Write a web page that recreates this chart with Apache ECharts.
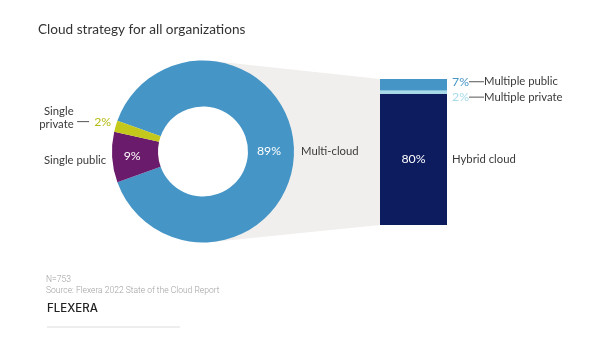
<!DOCTYPE html>
<html>
<head>
<meta charset="utf-8">
<script src="https://cdn.jsdelivr.net/npm/echarts@6/dist/echarts.min.js"></script>
<style>html,body{margin:0;padding:0;background:#fff}#c{width:600px;height:350px}</style>
</head>
<body>
<div id="c"></div>
<script>
// ---- data ----
const pieCategories = ['Multi-cloud', 'Single public', 'Single private'];
const pieValues = [89, 9, 2];
const barCategories = ['Hybrid cloud', 'Multiple private', 'Multiple public'];
const barValues = [80, 2, 7];
const titleText = 'Cloud strategy for all organizations';
const noteText = 'N=753';
const sourceText = 'Source: Flexera 2022 State of the Cloud Report';

// ---- layout / style ----
const FONT = 'Lato';
const NAME_SIZE = 11.3, PCT_SIZE = 12.3;
const CX = 203, CY = 151.5, R_OUT = 91, R_IN = 45;
const BAR_LEFT = 380, BAR_TOP = 79, BAR_W = 67, BAR_H = 146;
const pieColors = ['#4595c6', '#6b1b6b', '#c4c81a'];
const barColors = ['#0d1b5f', '#a6dbea', '#4595c6'];
const textDark = '#3a3a3a';

const sum = pieValues.reduce((a, b) => a + b, 0);
const startAngle = pieValues[0] / sum * 180;
function midAngle(i) {
  let cum = 0;
  for (let k = 0; k < i; k++) cum += pieValues[k];
  return (startAngle - (cum + pieValues[i] / 2) / sum * 360) * Math.PI / 180;
}
function pt(angle, r) { return [CX + r * Math.cos(angle), CY - r * Math.sin(angle)]; }

// tangent points for funnel
function tangent(px, py, sign) {
  const dx = px - CX, dy = py - CY;
  const d = Math.hypot(dx, dy);
  const th = Math.atan2(dy, dx);
  const a = Math.acos(R_OUT / d);
  const t = th + sign * a;
  return [CX + R_OUT * Math.cos(t), CY + R_OUT * Math.sin(t)];
}
const tTop = tangent(BAR_LEFT, BAR_TOP, -1);
const tBot = tangent(BAR_LEFT, BAR_TOP + BAR_H, 1);

const chart = echarts.init(document.getElementById('c'), null, {renderer: 'canvas'});

const aMulti = midAngle(0), aPub = midAngle(1), aPriv = midAngle(2);
const pMulti = pt(aMulti, R_OUT + 7);
const pPub = pt(aPub, R_OUT + 6);
const pPriv = pt(aPriv, R_OUT);

const graphics = [
  {type: 'polygon', z: 0, silent: true,
   shape: {points: [tTop, [BAR_LEFT, BAR_TOP], [BAR_LEFT, BAR_TOP + BAR_H], tBot]},
   style: {fill: '#f0efed'}},
  {type: 'circle', z: 1, silent: true, shape: {cx: CX, cy: CY, r: R_IN + 1}, style: {fill: '#fff'}},
  {type: 'text', z: 10, style: {text: pieCategories[0], x: pMulti[0], y: pMulti[1], textAlign: 'left', textVerticalAlign: 'middle', fill: textDark, font: NAME_SIZE + 'px ' + FONT}},
  {type: 'text', z: 10, style: {text: pieCategories[1], x: pPub[0], y: pPub[1] + 2.5, textAlign: 'right', textVerticalAlign: 'middle', fill: textDark, font: NAME_SIZE + 'px ' + FONT}},
  {type: 'text', z: 10, style: {text: pieValues[2] + '%', x: pPriv[0] - 4.5, y: pPriv[1] - 4.5, textAlign: 'right', textVerticalAlign: 'middle', fill: '#b5bb12', font: PCT_SIZE + 'px ' + FONT}},
  {type: 'line', z: 10, shape: {x1: pPriv[0] - 38.5, y1: pPriv[1] - 4.5, x2: pPriv[0] - 26.5, y2: pPriv[1] - 4.5}, style: {stroke: '#555', lineWidth: 1}},
  {type: 'text', z: 10, style: {text: 'Single\nprivate', x: pPriv[0] - 42, y: pPriv[1] - 8, textAlign: 'right', textVerticalAlign: 'middle', fill: textDark, font: NAME_SIZE + 'px ' + FONT, lineHeight: 13}},
  {type: 'text', z: 10, style: {text: noteText, x: 46, y: 280, textAlign: 'left', textVerticalAlign: 'middle', fill: '#a0a0a0', font: '300 8.5px Roboto'}},
  {type: 'text', z: 10, style: {text: sourceText, x: 46, y: 291, textAlign: 'left', textVerticalAlign: 'middle', fill: '#a0a0a0', font: '300 8.5px Roboto'}},
  {type: 'text', z: 10, style: {text: 'FLEXERA', x: 47, y: 309, textAlign: 'left', textVerticalAlign: 'middle', fill: '#222', font: '500 11.5px Inter', letterSpacing: 3.4}},
  {type: 'line', z: 10, shape: {x1: 47, y1: 327, x2: 180, y2: 327}, style: {stroke: '#dcdcdc', lineWidth: 1}}
];

const barSeries = barCategories.map((name, i) => {
  let label;
  if (i === 0) {
    label = {show: true, position: [0, '50%'], align: 'left', verticalAlign: 'middle',
      formatter: '{p|' + barValues[i] + '%}{n|' + name + '}',
      rich: {
        p: {width: BAR_W, align: 'center', color: '#fff', fontSize: PCT_SIZE, fontFamily: FONT},
        n: {color: textDark, fontSize: NAME_SIZE, fontFamily: FONT, padding: [0, 0, 0, 5]}
      }};
  } else {
    const col = i === 1 ? '#a6dbea' : '#4595c6';
    label = {show: true, position: 'right', distance: 5, offset: [0, i === 1 ? 5 : -3],
      formatter: '{p|' + barValues[i] + '%}{l|}{n|' + name + '}',
      rich: {
        p: {color: col, fontSize: PCT_SIZE, fontFamily: FONT},
        l: {width: 15, height: 1, backgroundColor: '#555', padding: 0},
        n: {color: textDark, fontSize: NAME_SIZE, fontFamily: FONT}
      }};
  }
  return {
    type: 'bar', name: name, stack: 'multi', data: [barValues[i]],
    barWidth: '100%', itemStyle: {color: barColors[i]}, label: label,
    silent: true, z: 5
  };
});

chart.setOption({
  animation: false,
  title: {text: titleText, left: 33, top: 18,
    textStyle: {fontFamily: FONT, fontSize: 13.6, fontWeight: 'normal', color: '#333'}},
  grid: {left: BAR_LEFT, top: BAR_TOP, width: BAR_W, height: BAR_H, containLabel: false},
  xAxis: {type: 'category', data: ['Multi-cloud'], show: false},
  yAxis: {type: 'value', min: 0, max: pieValues[0], show: false},
  graphic: graphics,
  series: [
    {type: 'pie', center: [CX, CY], radius: [R_IN, R_OUT], startAngle: startAngle, clockwise: true,
     silent: true, z: 3,
     data: pieCategories.map((n, i) => ({name: n, value: pieValues[i],
       itemStyle: {color: pieColors[i]},
       label: i === 0 ? {show: true, padding: [0, 10, 0, 0]} : {show: i < 2}})),
     label: {position: 'inside', formatter: '{c}%', color: '#fff', fontSize: PCT_SIZE, fontFamily: FONT},
     labelLine: {show: false}
    }
  ].concat(barSeries)
});
</script>
</body>
</html>
